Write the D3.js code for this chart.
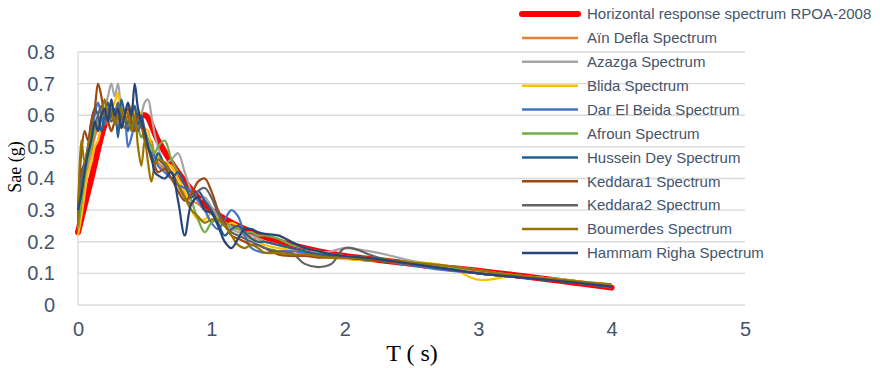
<!DOCTYPE html>
<html><head><meta charset="utf-8">
<script src="https://cdn.jsdelivr.net/npm/d3@7"></script>
<style>body{margin:0;background:#fff}svg{display:block}</style>
</head><body>
<svg id="c" width="880" height="368"></svg>
<script>
// ---- data ----
const periods = [0,0.025,0.05,0.075,0.1,0.125,0.15,0.175,0.2,0.225,0.25,0.275,0.3,0.325,0.35,0.375,0.4,0.425,0.45,0.475,0.5,0.525,0.55,0.575,0.6,
  0.65,0.7,0.75,0.8,0.85,0.9,0.95,1.0,1.05,1.1,1.15,1.2,1.25,1.3,1.35,1.4,
  1.5,1.6,1.7,1.8,1.9,2.0,
  2.25,2.5,2.75,3.0,3.25,3.5,3.75,4.0];
const rpoaT = [0,0.1,0.2,0.23,0.5,0.6,0.7,0.8,0.9,1.0,1.2,1.4,1.6,1.8,2.0,2.2,2.4,2.6,2.8,3.0,3.2,3.4,3.6,3.8,4.0];
const rpoa  = [0.23,0.40,0.57,0.6,0.6,0.52,0.45,0.39,0.34,0.30,0.25,0.215,0.19,0.17,0.155,0.145,0.135,0.125,0.117,0.108,0.098,0.088,0.077,0.066,0.055];
const ainDefla = [0.26,0.33,0.38,0.44,0.48,0.53,0.56,0.58,0.6,0.57,0.62,0.6,0.64,0.58,0.6,0.62,0.57,0.6,0.55,0.58,0.54,0.5,0.52,0.47,0.45,
  0.43,0.42,0.38,0.35,0.33,0.32,0.3,0.29,0.27,0.26,0.24,0.24,0.22,0.21,0.21,0.2,
  0.19,0.18,0.17,0.165,0.16,0.155, 0.145,0.13,0.12,0.105,0.095,0.085,0.075,0.06];
const azazga = [0.25,0.35,0.42,0.45,0.5,0.55,0.58,0.6,0.62,0.66,0.7,0.66,0.7,0.62,0.6,0.63,0.58,0.62,0.56,0.6,0.64,0.65,0.6,0.54,0.5,
  0.45,0.46,0.48,0.42,0.36,0.33,0.34,0.31,0.28,0.26,0.24,0.23,0.22,0.22,0.21,0.2,
  0.19,0.175,0.17,0.165,0.17,0.18, 0.165,0.14,0.125,0.11,0.095,0.085,0.075,0.06];
const blida = [0.22,0.28,0.35,0.42,0.45,0.5,0.52,0.56,0.58,0.6,0.62,0.64,0.67,0.6,0.62,0.58,0.63,0.6,0.62,0.59,0.56,0.55,0.5,0.48,0.47,
  0.45,0.44,0.4,0.36,0.3,0.27,0.27,0.29,0.27,0.25,0.26,0.25,0.23,0.21,0.2,0.19,
  0.18,0.175,0.17,0.16,0.15,0.145, 0.14,0.135,0.125,0.08,0.09,0.085,0.075,0.065];
const darElBeida = [0.3,0.38,0.44,0.5,0.55,0.6,0.64,0.6,0.57,0.62,0.6,0.58,0.63,0.56,0.6,0.5,0.53,0.57,0.6,0.56,0.55,0.52,0.5,0.47,0.44,
  0.42,0.4,0.38,0.37,0.36,0.33,0.3,0.26,0.24,0.27,0.3,0.28,0.22,0.18,0.17,0.165,
  0.17,0.17,0.165,0.16,0.155,0.15, 0.14,0.125,0.11,0.1,0.09,0.08,0.07,0.055];
const afroun = [0.24,0.32,0.4,0.46,0.5,0.55,0.58,0.6,0.62,0.6,0.63,0.6,0.62,0.58,0.6,0.57,0.6,0.58,0.56,0.53,0.55,0.52,0.5,0.48,0.5,
  0.52,0.46,0.42,0.38,0.33,0.27,0.23,0.26,0.27,0.26,0.25,0.24,0.23,0.23,0.22,0.22,
  0.21,0.19,0.18,0.17,0.16,0.155, 0.14,0.13,0.12,0.1,0.09,0.08,0.07,0.06];
const husseinDey = [0.28,0.42,0.45,0.5,0.58,0.62,0.6,0.55,0.6,0.64,0.6,0.62,0.53,0.65,0.6,0.55,0.6,0.63,0.57,0.6,0.55,0.5,0.47,0.45,0.48,
  0.44,0.4,0.42,0.38,0.34,0.36,0.33,0.3,0.26,0.22,0.24,0.25,0.23,0.21,0.2,0.2,
  0.19,0.18,0.17,0.16,0.155,0.15, 0.14,0.13,0.115,0.1,0.09,0.08,0.07,0.058];
const keddara1 = [0.3,0.48,0.55,0.52,0.58,0.62,0.7,0.66,0.6,0.58,0.55,0.58,0.6,0.56,0.6,0.62,0.58,0.55,0.6,0.57,0.52,0.5,0.46,0.44,0.42,
  0.43,0.4,0.36,0.33,0.35,0.39,0.4,0.36,0.3,0.26,0.22,0.21,0.2,0.19,0.19,0.18,
  0.16,0.155,0.155,0.15,0.15,0.15, 0.14,0.13,0.115,0.1,0.09,0.08,0.07,0.06];
const keddara2 = [0.27,0.4,0.45,0.48,0.53,0.57,0.6,0.63,0.6,0.62,0.58,0.6,0.64,0.6,0.56,0.58,0.62,0.58,0.55,0.58,0.55,0.5,0.48,0.45,0.46,
  0.44,0.42,0.38,0.34,0.32,0.36,0.37,0.34,0.29,0.25,0.23,0.22,0.21,0.2,0.19,0.18,
  0.17,0.165,0.13,0.12,0.13,0.18, 0.15,0.13,0.115,0.1,0.09,0.08,0.07,0.06];
const boumerdes = [0.25,0.52,0.45,0.5,0.55,0.58,0.55,0.6,0.65,0.6,0.62,0.57,0.6,0.62,0.58,0.6,0.55,0.6,0.5,0.44,0.52,0.45,0.39,0.44,0.46,
  0.45,0.42,0.38,0.34,0.3,0.28,0.26,0.27,0.27,0.25,0.22,0.19,0.18,0.19,0.18,0.165,
  0.165,0.16,0.16,0.155,0.15,0.15, 0.145,0.135,0.125,0.11,0.095,0.085,0.075,0.065];
const hammamRigha = [0.3,0.35,0.42,0.48,0.52,0.58,0.55,0.6,0.62,0.58,0.65,0.6,0.62,0.56,0.6,0.64,0.6,0.7,0.62,0.58,0.55,0.5,0.47,0.42,0.41,
  0.4,0.42,0.33,0.22,0.32,0.34,0.3,0.29,0.25,0.2,0.18,0.21,0.24,0.24,0.23,0.225,
  0.22,0.2,0.18,0.17,0.16,0.155, 0.145,0.13,0.115,0.1,0.09,0.08,0.07,0.058];
const seriesNames = ["Horizontal response spectrum RPOA-2008","Aïn Defla Spectrum","Azazga Spectrum","Blida Spectrum","Dar El Beida Spectrum","Afroun Spectrum","Hussein Dey Spectrum","Keddara1 Spectrum","Keddara2 Spectrum","Boumerdes Spectrum","Hammam Righa Spectrum"];
const recordValues = [ainDefla, azazga, blida, darElBeida, afroun, husseinDey, keddara1, keddara2, boumerdes, hammamRigha];
const xTicks = [0,1,2,3,4,5];
const yTicks = [0,0.1,0.2,0.3,0.4,0.5,0.6,0.7,0.8];

// ---- styles ----
const colors = ["#FF0000","#ED7D31","#A5A5A5","#FFC000","#4472C4","#70AD47","#255E91","#9E480E","#636363","#997300","#264478"];
const textColor = "#44546A";

const svg = d3.select("#c");
const x = d3.scaleLinear().domain([0,5]).range([78,745]);
const y = d3.scaleLinear().domain([0,0.8]).range([305,52]);

// gridlines
svg.append("g").selectAll("line").data(yTicks).join("line")
  .attr("x1",x(0)).attr("x2",x(5)).attr("y1",d=>y(d)).attr("y2",d=>y(d))
  .attr("stroke","#D9D9D9").attr("stroke-width",1.3);
svg.append("line").attr("x1",x(0)).attr("x2",x(0)).attr("y1",y(0.8)).attr("y2",y(0))
  .attr("stroke","#D9D9D9").attr("stroke-width",1.3);

// axes labels
const yAxis = d3.axisLeft(y).tickValues(yTicks).tickSize(0).tickPadding(23).tickFormat(d3.format(".1~f"));
const gy = svg.append("g").attr("transform",`translate(${x(0)},0)`).call(yAxis);
gy.select(".domain").remove();
gy.selectAll("text").attr("fill",textColor).style("font-family","Liberation Sans, Arial, sans-serif").style("font-size","20px");
const xAxis = d3.axisBottom(x).tickValues(xTicks).tickSize(0).tickPadding(17).tickFormat(d3.format("d"));
const gx = svg.append("g").attr("transform",`translate(0,${y(0)})`).call(xAxis);
gx.select(".domain").remove();
gx.selectAll("text").attr("fill",textColor).style("font-family","Liberation Sans, Arial, sans-serif").style("font-size","20px");

svg.append("text").attr("x",412).attr("y",361).attr("text-anchor","middle")
  .style("font-family","Liberation Serif, Times New Roman, serif").style("font-size","24px").attr("fill","#000").text("T ( s)");
svg.append("text").attr("transform","translate(21,167) rotate(-90)").attr("text-anchor","middle")
  .style("font-family","Liberation Serif, Times New Roman, serif").style("font-size","18px").attr("fill","#000").text("Sae (g)");

// lines
const line = d3.line().x(d=>x(d[0])).y(d=>y(d[1])).curve(d3.curveCatmullRom.alpha(0.5));
svg.append("path").datum(d3.zip(rpoaT, rpoa)).attr("d", d3.line().x(d=>x(d[0])).y(d=>y(d[1])).curve(d3.curveMonotoneX))
  .attr("fill","none").attr("stroke",colors[0]).attr("stroke-width",6).attr("stroke-linecap","round").attr("stroke-linejoin","round");
recordValues.forEach((vals,i)=>{
  svg.append("path").datum(d3.zip(periods, vals)).attr("d", line)
    .attr("fill","none").attr("stroke",colors[i+1]).attr("stroke-width",2.2).attr("stroke-linejoin","round");
});

// legend
const lg = svg.append("g").selectAll("g").data(seriesNames).join("g")
  .attr("transform",(d,i)=>`translate(522,${14 + i*23.9})`);
lg.append("line").attr("x1",0).attr("x2",56).attr("y1",0).attr("y2",0)
  .attr("stroke",(d,i)=>colors[i]).attr("stroke-width",(d,i)=>i===0?6:2.5).attr("stroke-linecap",(d,i)=>i===0?"round":"butt");
lg.append("text").attr("x",65).attr("y",0).attr("dy","0.35em").attr("fill",textColor)
  .style("font-family","Liberation Sans, Arial, sans-serif").style("font-size","15px").text(d=>d);
</script>
</body></html>
